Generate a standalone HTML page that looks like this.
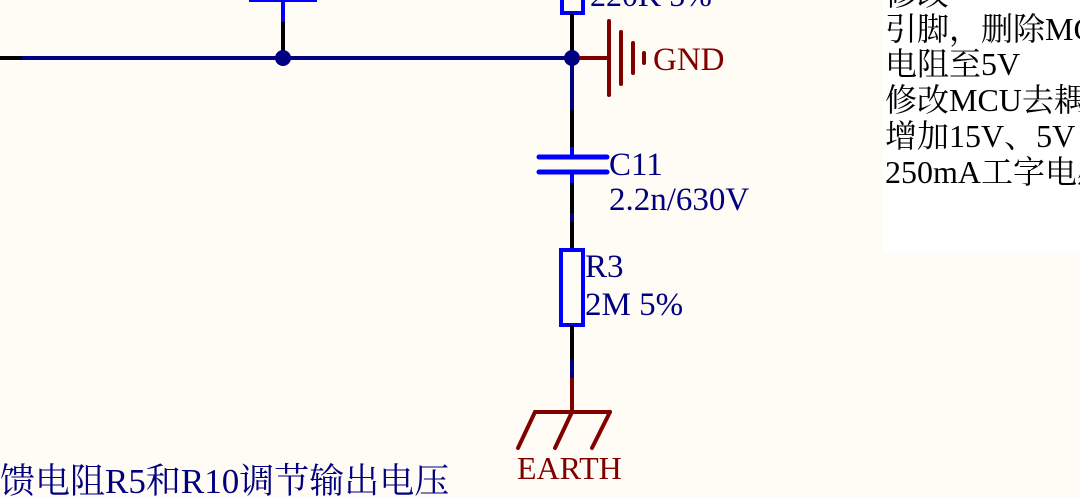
<!DOCTYPE html>
<html><head><meta charset="utf-8"><style>
html,body{margin:0;padding:0;background:#fffbf5;}
svg{display:block}
text{font-family:"Liberation Serif","Noto Serif CJK SC",serif;}
</style></head><body>
<svg width="1080" height="498" viewBox="0 0 1080 498" xmlns="http://www.w3.org/2000/svg">
<rect x="0" y="0" width="1080" height="498" fill="#fffbf5"/>
<rect x="883" y="0" width="197" height="253" fill="#ffffff"/>
<g fill="#000" font-size="32">
<text x="885" y="5">修改</text>
<text x="885" y="40">引脚，删除MCU</text>
<text x="885" y="75">电阻至5V</text>
<text x="885" y="111">修改MCU去耦电</text>
<text x="885" y="147">增加15V、5V</text>
<text x="885" y="183">250mA工字电感</text>
</g>
<line x1="0" y1="58" x2="22" y2="58" stroke="#000" stroke-width="4"/>
<line x1="22" y1="58" x2="572" y2="58" stroke="#000080" stroke-width="4"/>
<line x1="283" y1="0" x2="283" y2="22" stroke="#0000ff" stroke-width="4"/>
<line x1="283" y1="22" x2="283" y2="58" stroke="#000" stroke-width="4"/>
<line x1="249" y1="0" x2="317" y2="0" stroke="#0000ff" stroke-width="4"/>
<circle cx="283" cy="58" r="8" fill="#000080"/>
<rect x="562" y="-20" width="21" height="33" fill="none" stroke="#0000ff" stroke-width="4"/>
<text x="590" y="6" font-size="32" fill="#000080">220K 5%</text>
<line x1="572" y1="14" x2="572" y2="58" stroke="#000" stroke-width="4"/>
<line x1="572" y1="58" x2="572" y2="110" stroke="#000080" stroke-width="4"/>
<line x1="572" y1="110" x2="572" y2="147" stroke="#000" stroke-width="4"/>
<line x1="572" y1="147" x2="572" y2="157" stroke="#0000ff" stroke-width="4"/>
<line x1="539" y1="157" x2="607" y2="157" stroke="#0000ff" stroke-width="5" stroke-linecap="round"/>
<line x1="539" y1="172" x2="607" y2="172" stroke="#0000ff" stroke-width="5" stroke-linecap="round"/>
<line x1="572" y1="172" x2="572" y2="183" stroke="#0000ff" stroke-width="4"/>
<line x1="572" y1="183" x2="572" y2="250" stroke="#000" stroke-width="4"/>
<line x1="572" y1="213" x2="572" y2="222" stroke="#000080" stroke-width="4"/>
<rect x="561" y="250" width="22" height="75" fill="#fffbf5" stroke="#0000ff" stroke-width="4"/>
<line x1="572" y1="325" x2="572" y2="360" stroke="#000" stroke-width="4"/>
<line x1="572" y1="360" x2="572" y2="378" stroke="#000080" stroke-width="4"/>
<line x1="572" y1="378" x2="572" y2="412" stroke="#800000" stroke-width="4"/>
<circle cx="572" cy="58" r="8" fill="#000080"/>
<line x1="580" y1="58" x2="609" y2="58" stroke="#800000" stroke-width="4"/>
<g stroke="#800000" stroke-width="4" stroke-linecap="round">
<line x1="609" y1="21" x2="609" y2="95"/>
<line x1="621" y1="32" x2="621" y2="84"/>
<line x1="633" y1="43" x2="633" y2="73"/>
<line x1="644" y1="53" x2="644" y2="63"/>
</g>
<text x="653" y="70" font-size="33" fill="#800000">GND</text>
<g stroke="#800000" stroke-width="4" stroke-linecap="round">
<line x1="535" y1="412" x2="610" y2="412"/>
<line x1="535" y1="412" x2="518" y2="448"/>
<line x1="572" y1="412" x2="555" y2="448"/>
<line x1="610" y1="412" x2="592" y2="448"/>
</g>
<text x="517" y="479" font-size="32" fill="#800000">EARTH</text>
<g fill="#000080" font-size="33">
<text x="609" y="175">C11</text>
<text x="609" y="210">2.2n/630V</text>
<text x="585" y="277">R3</text>
<text x="585" y="315">2M 5%</text>
</g>
<text x="0" y="493" font-size="35" fill="#000080">馈电阻R5和R10调节输出电压</text>
</svg>
</body></html>
